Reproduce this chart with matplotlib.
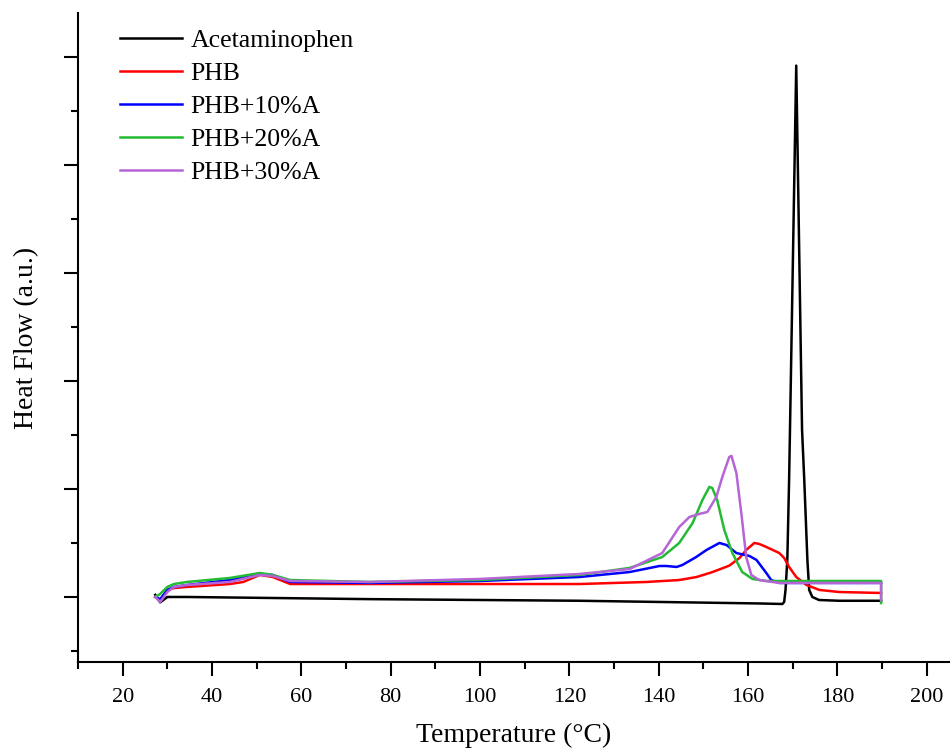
import numpy as np
import matplotlib
matplotlib.use('Agg')
import matplotlib.pyplot as plt
from matplotlib.ticker import MultipleLocator, NullFormatter

# DSC curves (temperature in °C, heat flow in arbitrary units)
acet_T = [27.3, 28.4, 30.0, 34.4, 75.3, 122.3, 162.5, 167.7, 168.1, 168.4, 168.8, 169.2, 169.4,
          170.8, 172.1, 172.6, 173.3, 173.7, 174.4, 175.9, 180.4, 189.8]
acet_Q = [0.02, -0.05, 0.0, 0.0, -0.02, -0.035, -0.06, -0.065, -0.046, 0.065, 0.34, 1.08, 1.55,
          4.92, 1.55, 1.08, 0.34, 0.065, 0.0, -0.028, -0.035, -0.035]

phb_T = [27.3, 28.4, 30.0, 31.5, 34.4, 44.0, 47.0, 50.7, 53.6, 57.5, 75.3, 100.0, 122.3, 137.3,
         144.6, 148.5, 152.0, 155.8, 158.1, 159.6, 161.4, 162.5, 164.1, 167.0, 168.1, 169.2, 170.8,
         173.1, 176.0, 180.4, 189.8]
phb_Q = [0.0, -0.028, 0.065, 0.083, 0.093, 0.12, 0.139, 0.204, 0.185, 0.12, 0.12, 0.12, 0.12, 0.139,
         0.157, 0.185, 0.23, 0.29, 0.361, 0.435, 0.5, 0.491, 0.463, 0.407, 0.361, 0.278, 0.185,
         0.111, 0.065, 0.046, 0.037]

a10_T = [27.3, 28.4, 30.0, 31.5, 34.4, 44.0, 50.7, 53.6, 57.5, 75.3, 100.0, 122.3, 133.5, 140.2,
         141.7, 144.0, 145.3, 148.4, 150.7, 153.6, 155.2, 157.4, 160.3, 161.9, 164.1, 165.2,
         167.0, 189.8]
a10_Q = [0.0, -0.02, 0.065, 0.093, 0.111, 0.157, 0.213, 0.204, 0.139, 0.13, 0.148, 0.185, 0.231, 0.287,
         0.287, 0.278, 0.296, 0.37, 0.435, 0.5, 0.481, 0.407, 0.38, 0.343, 0.222, 0.157,
         0.13, 0.13]

a20_T = [27.3, 28.4, 30.0, 31.5, 34.4, 44.0, 50.7, 53.6, 57.5, 75.3, 100.0, 122.3, 133.5, 140.8,
         144.6, 147.6, 149.8, 151.35, 152.0, 153.1, 154.7, 156.5, 158.7, 161.0, 164.1, 189.8, 189.8]
a20_Q = [0.0, 0.028, 0.093, 0.12, 0.139, 0.176, 0.222, 0.204, 0.157, 0.139, 0.157, 0.204, 0.269, 0.37,
         0.5, 0.685, 0.898, 1.019, 1.009, 0.898, 0.62, 0.407, 0.231, 0.167, 0.148, 0.148, -0.056]

a30_T = [27.3, 28.4, 30.0, 31.5, 34.4, 44.0, 50.7, 53.6, 57.5, 75.3, 100.0, 122.3, 133.5, 140.8,
         144.6, 146.9, 149.1, 150.9, 152.9, 154.25, 155.8, 156.3, 157.4, 158.5, 159.6, 160.75,
         162.5, 167.0, 189.8, 189.8]
a30_Q = [0.0, -0.046, 0.046, 0.093, 0.111, 0.139, 0.204, 0.194, 0.148, 0.139, 0.167, 0.213, 0.259, 0.407,
         0.648, 0.741, 0.769, 0.787, 0.926, 1.111, 1.296, 1.306, 1.148, 0.778, 0.37, 0.204,
         0.157, 0.13, 0.13, -0.028]

labels = ['Acetaminophen', 'PHB', 'PHB+10%A', 'PHB+20%A', 'PHB+30%A']
colors = ['black', '#ff0000', '#0000ff', '#22bb33', '#b565d6']

plt.rcParams['font.family'] = ['Liberation Serif', 'DejaVu Serif']

fig = plt.figure(figsize=(9.51, 7.54), dpi=100)
ax = fig.add_axes([78 / 951, 92 / 754, 871 / 951, 649 / 754])

series = [(acet_T, acet_Q), (phb_T, phb_Q), (a10_T, a10_Q), (a20_T, a20_Q), (a30_T, a30_Q)]
for (t, q), lab, c in zip(series, labels, colors):
    ax.plot(t, q, color=c, lw=1.8, label=lab)

ax.set_xlim(10, 205)
ax.set_ylim(-0.602, 5.407)

ax.xaxis.set_major_locator(MultipleLocator(20))
ax.xaxis.set_minor_locator(MultipleLocator(10))
ax.yaxis.set_major_locator(MultipleLocator(1))
ax.yaxis.set_minor_locator(MultipleLocator(0.5))
ax.yaxis.set_major_formatter(NullFormatter())

ax.spines['top'].set_visible(False)
ax.spines['right'].set_visible(False)
for s in ['left', 'bottom']:
    ax.spines[s].set_linewidth(1.5)

ax.tick_params(which='major', direction='out', length=10, width=1.5, labelsize=16, pad=9)
ax.tick_params(which='minor', direction='out', length=5, width=1.5)

ax.set_xlabel('Temperature (°C)', fontsize=20, labelpad=11)
ax.set_ylabel('Heat Flow (a.u.)', fontsize=20, labelpad=9)

ax.legend(loc='upper left', bbox_to_anchor=(0.048, 0.975), frameon=False, fontsize=18.5,
          handlelength=2.41, handletextpad=0.35, labelspacing=0.385, borderpad=0, borderaxespad=0)

fig.savefig('out.png', dpi=100)
